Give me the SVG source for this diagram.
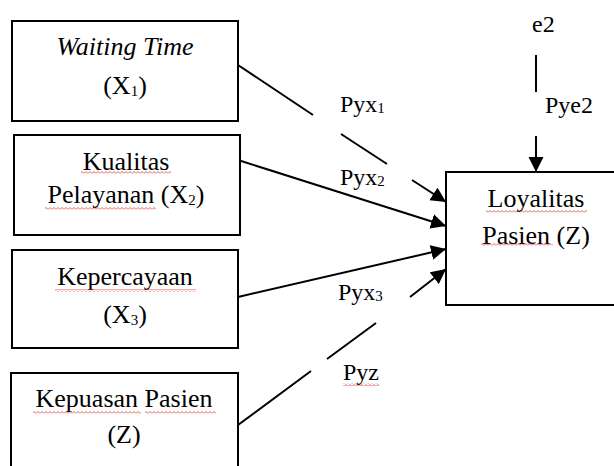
<svg xmlns="http://www.w3.org/2000/svg" width="614" height="466" viewBox="0 0 614 466">
<style>
.box{fill:#fff;stroke:#000;stroke-width:2}
.t{font-size:26px;fill:#000;text-anchor:middle}
.l{font-size:24px;fill:#000}
.sub{font-size:15px}
.c{fill:none;stroke:#000;stroke-width:2}
.sq{fill:url(#squig)}
</style>
<defs>
<marker id="ah" markerUnits="userSpaceOnUse" markerWidth="16" markerHeight="16" viewBox="0 0 16 16" refX="15" refY="8" orient="auto">
<path d="M0,0.5 L15,8 L0,15.5 Z" fill="#000"/>
</marker>
<pattern id="squig" patternUnits="userSpaceOnUse" width="4" height="3">
<polyline points="0,2.5 2,0.5 4,2.5" fill="none" stroke="#e03030" stroke-width="0.8"/>
</pattern>
</defs>
<rect width="614" height="466" fill="#fff"/>
<g id="connectors">
<path class="c" d="M238,65 L313,115 M341,134 L387,164 M412,180 L446,202" marker-end="url(#ah)"/>
<path class="c" d="M238,160 L446,226" marker-end="url(#ah)"/>
<path class="c" d="M238,297 L446,249" marker-end="url(#ah)"/>
<path class="c" d="M238,425 L311,371 M327,359 L376,323 M410,297 L446,269" marker-end="url(#ah)"/>
<path class="c" d="M536,55 L536,92 M536,136 L536,172" marker-end="url(#ah)"/>
</g>
<g font-family="Liberation Serif, DejaVu Serif, serif">
<g id="node-x1">
<rect class="box" x="12" y="21" width="226" height="100"/>
<text class="t" x="125" y="55" font-style="italic">Waiting Time</text>
<text class="t" x="125" y="94">(X<tspan class="sub" dy="2">1</tspan><tspan dy="-2">)</tspan></text>
</g>
<g id="node-x2">
<rect class="box" x="14" y="135" width="226" height="100"/>
<text class="t" x="126" y="170">Kualitas</text>
<text class="t" x="126" y="203">Pelayanan (X<tspan class="sub" dy="2">2</tspan><tspan dy="-2">)</tspan></text>
<rect class="sq" x="81" y="171" width="90" height="3"/>
<rect class="sq" x="45" y="207" width="111" height="3"/>
</g>
<g id="node-x3">
<rect class="box" x="12" y="250" width="226" height="98"/>
<text class="t" x="125" y="285">Kepercayaan</text>
<text class="t" x="125" y="323">(X<tspan class="sub" dy="2">3</tspan><tspan dy="-2">)</tspan></text>
<rect class="sq" x="55" y="289" width="141" height="3"/>
</g>
<g id="node-z">
<rect class="box" x="11" y="373" width="227" height="100"/>
<text class="t" x="124" y="407">Kepuasan Pasien</text>
<text class="t" x="124" y="443">(Z)</text>
<rect class="sq" x="33" y="411" width="108" height="3"/>
<rect class="sq" x="145" y="411" width="71" height="3"/>
</g>
<g id="node-y">
<rect class="box" x="446" y="172" width="175" height="133"/>
<text class="t" x="536" y="207">Loyalitas</text>
<text class="t" x="536" y="244">Pasien (Z)</text>
<rect class="sq" x="486" y="210" width="101" height="3"/>
<rect class="sq" x="481" y="243" width="72" height="3"/>
</g>
<g id="labels">
<text class="l" x="532" y="32">e2</text>
<text class="l" x="545" y="113">Pye2</text>
<text class="l" x="340" y="112">Pyx<tspan class="sub" dy="1">1</tspan></text>
<text class="l" x="340" y="185">Pyx<tspan class="sub" dy="1">2</tspan></text>
<text class="l" x="338" y="300">Pyx<tspan class="sub" dy="1">3</tspan></text>
<text class="l" x="343" y="380">Pyz</text>
<rect class="sq" x="343" y="383" width="36" height="3"/>
</g>
</g>
</svg>
